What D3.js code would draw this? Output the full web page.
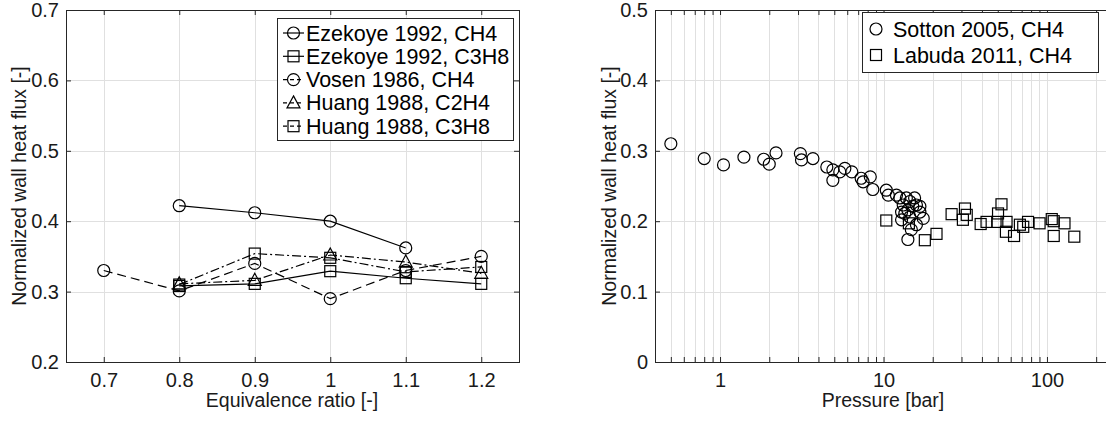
<!DOCTYPE html>
<html>
<head>
<meta charset="utf-8">
<script src="https://cdn.jsdelivr.net/npm/d3@7"></script>
<style>
body { margin: 0; background: #fff; }
svg { display: block; font-family: "Liberation Sans", Arial, sans-serif; }
.grid line { stroke: #e0e0e0; stroke-width: 1; }
.tick text { font-size: 20px; fill: #1a1a1a; }
.tick line { stroke: #262626; }
</style>
</head>
<body>
<svg width="1106" height="421"></svg>
<script>
// left panel: wall heat flux vs equivalence ratio
var phi = [0.7, 0.8, 0.9, 1.0, 1.1, 1.2];
var ezekoyeCH4  = [null, 0.422, 0.412, 0.400, 0.362, null];
var ezekoyeC3H8 = [null, 0.308, 0.311, 0.329, 0.319, 0.311];
var vosenCH4    = [0.330, 0.301, 0.340, 0.290, 0.330, 0.350];
var huangC2H4   = [null, 0.311, 0.316, 0.352, 0.342, 0.326];
var huangC3H8   = [null, 0.310, 0.354, 0.348, 0.328, 0.335];

var leftXTicks = [0.7, 0.8, 0.9, 1.0, 1.1, 1.2];
var leftYTicks = [0.2, 0.3, 0.4, 0.5, 0.6, 0.7];

// right panel: wall heat flux vs pressure
var sottonP = [0.5, 0.8, 1.05, 1.4, 1.85, 2.0, 2.2, 3.1, 3.15, 3.7, 4.5, 4.9, 4.9, 5.4, 5.8, 6.4, 7.3, 7.5, 8.3, 8.6,
               10.4, 10.7, 12.0, 12.6, 13.2, 13.8, 14.5, 15.5, 15.9, 16.7, 17.5, 12.9, 12.9, 14.1, 15.9, 14.8, 14.1,
               13.5, 14.5, 15.1, 16.7];
var sottonQ = [0.310, 0.289, 0.280, 0.291, 0.288, 0.281, 0.297, 0.296, 0.287, 0.289, 0.277, 0.273, 0.258, 0.270, 0.275,
               0.270, 0.261, 0.256, 0.263, 0.245, 0.244, 0.237, 0.237, 0.233, 0.223, 0.233, 0.228, 0.233, 0.223, 0.213,
               0.204, 0.213, 0.202, 0.216, 0.195, 0.188, 0.174, 0.211, 0.206, 0.221, 0.221];
var labudaP = [10.4, 14.3, 17.9, 21.1, 26.1, 31.5, 32.3, 30.6, 39.3, 42.7, 49.7, 52.7, 50.2, 56.6, 56.1, 62.9, 68.3,
               71.6, 76.6, 90.1, 107, 110, 128, 110, 147];
var labudaQ = [0.201, 0.197, 0.173, 0.182, 0.210, 0.218, 0.209, 0.202, 0.196, 0.199, 0.199, 0.224, 0.211, 0.199, 0.185,
               0.179, 0.195, 0.192, 0.199, 0.197, 0.203, 0.200, 0.197, 0.179, 0.178];

var rightYTicks = [0, 0.1, 0.2, 0.3, 0.4, 0.5];
var rightXLabels = [1, 10, 100];

var svg = d3.select("svg");
var plotTop = 10, plotBottom = 362;

function drawMarker(g, type, x, y) {
    if (type == "circle") {
        g.append("circle").attr("cx", x).attr("cy", y).attr("r", 6);
    } else if (type == "square") {
        g.append("rect").attr("x", x - 5.5).attr("y", y - 5.5).attr("width", 11).attr("height", 11);
    } else if (type == "triangle") {
        g.append("path").attr("d", "M" + x + "," + (y - 7) + "L" + (x + 6.5) + "," + (y + 5) + "L" + (x - 6.5) + "," + (y + 5) + "Z");
    }
}

function drawFrame(x, y, xTicks, yTicks, xFormat, yFormat) {
    var x0 = x.range()[0], x1 = x.range()[1];
    var grid = svg.append("g").attr("class", "grid");
    grid.selectAll(".gx").data(xTicks).enter().append("line")
        .attr("x1", function(d) { return Math.round(x(d)) + 0.5; })
        .attr("x2", function(d) { return Math.round(x(d)) + 0.5; })
        .attr("y1", plotTop).attr("y2", plotBottom);
    grid.selectAll(".gy").data(yTicks).enter().append("line")
        .attr("y1", function(d) { return Math.round(y(d)) + 0.5; })
        .attr("y2", function(d) { return Math.round(y(d)) + 0.5; })
        .attr("x1", x0).attr("x2", x1);

    var ax = svg.append("g").attr("transform", "translate(0," + plotBottom + ")")
        .call(d3.axisBottom(x).tickValues(xTicks).tickSize(-5).tickPadding(11).tickFormat(xFormat));
    var axT = svg.append("g").attr("transform", "translate(0," + plotTop + ")")
        .call(d3.axisTop(x).tickValues(xTicks).tickSize(-5).tickFormat(""));
    var ay = svg.append("g").attr("transform", "translate(" + x0 + ",0)")
        .call(d3.axisLeft(y).tickValues(yTicks).tickSize(-5).tickPadding(7).tickFormat(yFormat));
    var ayR = svg.append("g").attr("transform", "translate(" + x1 + ",0)")
        .call(d3.axisRight(y).tickValues(yTicks).tickSize(-5).tickFormat(""));
    [ax, axT, ay, ayR].forEach(function(a) {
        a.select(".domain").remove();
        a.attr("font-family", null).attr("font-size", null);
    });

    svg.append("rect")
        .attr("x", x0 + 0.5).attr("y", plotTop + 0.5)
        .attr("width", x1 - x0).attr("height", plotBottom - plotTop)
        .attr("fill", "none").attr("stroke", "#262626").attr("stroke-width", 1);
}

function axisLabels(xText, xc, yText, yx) {
    svg.append("text").attr("x", xc).attr("y", 407).attr("text-anchor", "middle")
        .attr("font-size", 19.5).attr("fill", "#1a1a1a").text(xText);
    svg.append("text").attr("transform", "translate(" + yx + "," + ((plotTop + plotBottom) / 2) + ") rotate(-90)")
        .attr("text-anchor", "middle").attr("font-size", 19.5).attr("fill", "#1a1a1a").text(yText);
}

/* ---------- left panel ---------- */
var xL = d3.scaleLinear().domain([0.65, 1.25]).range([66, 519]);
var yL = d3.scaleLinear().domain([0.2, 0.7]).range([plotBottom, plotTop]);

drawFrame(xL, yL, leftXTicks, leftYTicks, function(d) { return d3.format("")(d); }, d3.format(".1f"));
axisLabels("Equivalence ratio [-]", 292, "Normalized wall heat flux [-]", 26);

var leftSeries = [
    {name: "Ezekoye 1992, CH4",  values: ezekoyeCH4,  marker: "circle",   dash: null},
    {name: "Ezekoye 1992, C3H8", values: ezekoyeC3H8, marker: "square",   dash: null},
    {name: "Vosen 1986, CH4",    values: vosenCH4,    marker: "circle",   dash: "9,5"},
    {name: "Huang 1988, C2H4",   values: huangC2H4,   marker: "triangle", dash: "9,3,2,3"},
    {name: "Huang 1988, C3H8",   values: huangC3H8,   marker: "square",   dash: "9,3,2,3"}
];

var line = d3.line()
    .defined(function(d) { return d[1] != null; })
    .x(function(d) { return xL(d[0]); })
    .y(function(d) { return yL(d[1]); });

leftSeries.forEach(function(s) {
    var pts = phi.map(function(p, i) { return [p, s.values[i]]; });
    var g = svg.append("g").attr("fill", "none").attr("stroke", "#000").attr("stroke-width", 1.2);
    g.append("path").attr("d", line(pts)).attr("stroke-dasharray", s.dash);
    pts.filter(function(d) { return d[1] != null; }).forEach(function(d) {
        drawMarker(g, s.marker, xL(d[0]), yL(d[1]));
    });
});

// legend
var legL = svg.append("g");
legL.append("rect").attr("x", 277.5).attr("y", 18.5).attr("width", 236).attr("height", 122)
    .attr("fill", "#fff").attr("stroke", "#262626");
leftSeries.forEach(function(s, i) {
    var ly = 33 + i * 23.3;
    var g = legL.append("g").attr("fill", "none").attr("stroke", "#000").attr("stroke-width", 1.2);
    g.append("line").attr("x1", 283).attr("x2", 304).attr("y1", ly).attr("y2", ly)
        .attr("stroke-dasharray", s.dash ? "4,3" : null);
    drawMarker(g, s.marker, 293.5, ly);
    legL.append("text").attr("x", 306).attr("y", ly + 7.5).attr("font-size", 21.5).attr("fill", "#000").text(s.name);
});

/* ---------- right panel ---------- */
var xR = d3.scaleLog().domain([0.4, 250]).range([655, 1112]);
var yR = d3.scaleLinear().domain([0, 0.5]).range([plotBottom, plotTop]);

var logTicks = xR.ticks().filter(function(d) { return d >= 0.4 && d <= 250; });
drawFrame(xR, yR, logTicks, rightYTicks,
    function(d) { return rightXLabels.indexOf(d) > -1 ? d3.format("")(d) : ""; },
    function(d) { return d3.format("")(d); });
axisLabels("Pressure [bar]", 883, "Normalized wall heat flux [-]", 616);

var gs = svg.append("g").attr("fill", "none").attr("stroke", "#000").attr("stroke-width", 1.2);
sottonP.forEach(function(p, i) { drawMarker(gs, "circle", xR(p), yR(sottonQ[i])); });
labudaP.forEach(function(p, i) { drawMarker(gs, "square", xR(p), yR(labudaQ[i])); });

var legR = svg.append("g");
legR.append("rect").attr("x", 862.5).attr("y", 12.5).attr("width", 236).attr("height", 60)
    .attr("fill", "#fff").attr("stroke", "#262626");
[["Sotton 2005, CH4", "circle"], ["Labuda 2011, CH4", "square"]].forEach(function(e, i) {
    var ly = 29 + i * 26;
    var g = legR.append("g").attr("fill", "none").attr("stroke", "#000").attr("stroke-width", 1.2);
    drawMarker(g, e[1], 876, ly);
    legR.append("text").attr("x", 893).attr("y", ly + 7.5).attr("font-size", 21.5).attr("fill", "#000").text(e[0]);
});
</script>
</body>
</html>
